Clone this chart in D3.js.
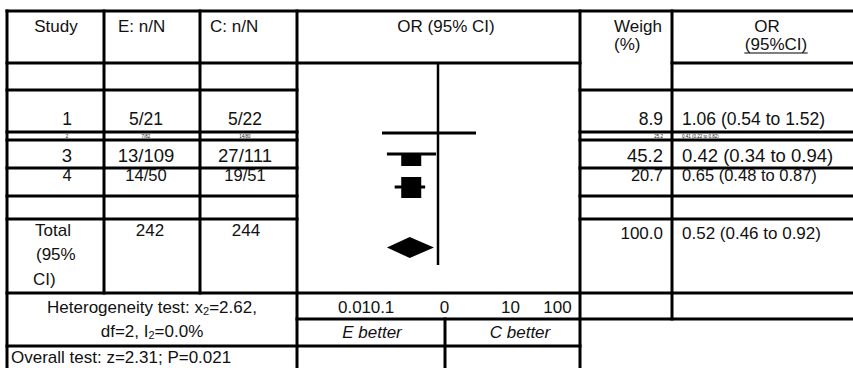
<!DOCTYPE html>
<html><head><meta charset="utf-8">
<script src="https://cdn.jsdelivr.net/npm/d3@7"></script>
<style>
html,body{margin:0;padding:0;background:#fff;}
svg{display:block;font-family:"Liberation Sans",Arial,sans-serif;}
</style></head><body>
<svg id="chart" width="853" height="368"></svg>
<script>
// ---------------- data ----------------
const studies  = ["1", "2", "3", "4"];
const eEvents  = ["5/21", "7/82", "13/109", "14/50"];
const cEvents  = ["5/22", "14/80", "27/111", "19/51"];
const weights  = ["8.9", "25.2", "45.2", "20.7"];
const orCI     = ["1.06 (0.54 to 1.52)", "0.41 (0.22 to 0.82)", "0.42 (0.34 to 0.94)", "0.65 (0.48 to 0.87)"];
// values as drawn on the plot axis (OR units)
const plotLo   = [0.125, null, 0.15, 0.20];
const plotEst  = [null,  null, 0.37, 0.37];
const plotHi   = [3.77,  null, 0.93, 0.62];
const totalE = "242", totalC = "244", totalW = "100.0", totalOR = "0.52 (0.46 to 0.92)";
const pooledLo = 0.15, pooledEst = 0.35, pooledHi = 0.86;
const tickValues = [0.01, 0.1, 1, 10, 100];
const tickLabels = ["0.01", "0.1", "0", "10", "100"];

// ---------------- layout ----------------
const svg = d3.select("#chart");
const X = {L: 7, c1: 104, c2: 200, c3: 297, c4: 580, c5: 672, R: 853, split: 445};
const Y = {T: 11, h1: 63, h2: 90, r1: 132, r2: 140, r3: 168, r4: 196, b: 219, tot: 293, het2: 319, het3: 346, B: 368};
const rowTops = [Y.h2, Y.r1, Y.r2, Y.r3];
const rowBase = [125, 138, 162, 181];
const rowFont = [17.5, 4.5, 18.5, 16.5];
const markOff = [43, 0, 14, 19];
const boxTop = [0, 0, 1, -10], boxBot = [0, 0, 12, 11];

const x = d3.scaleLog().domain(tickValues).range([348, 376, 438, 504, 551]);

const lines = svg.append("g").attr("stroke", "#000").attr("stroke-width", 3).attr("stroke-linecap", "square");
function hl(y, x1, x2){ lines.append("line").attr("x1", x1).attr("x2", x2).attr("y1", y).attr("y2", y); }
function vl(xx, y1, y2){ lines.append("line").attr("x1", xx).attr("x2", xx).attr("y1", y1).attr("y2", y2); }

hl(Y.T, X.L, X.R);
hl(Y.h1, X.L, X.c4); hl(Y.h1, X.c5, X.R);
[Y.h2, Y.r1, Y.r2, Y.r3, Y.r4, Y.b].forEach(y => { hl(y, X.L, X.c3); hl(y, X.c4, X.R); });
hl(Y.tot, X.L, X.R);
hl(Y.het2, X.c3, X.R);
hl(Y.het3, X.L, X.c4);
vl(X.L, Y.T, Y.B); vl(X.c1, Y.T, Y.tot); vl(X.c2, Y.T, Y.tot);
vl(X.c3, Y.T, Y.B); vl(X.c4, Y.T, Y.B); vl(X.c5, Y.T, Y.het2);
vl(X.split, Y.het2, Y.B);

const txt = svg.append("g").attr("fill", "#111");
function t(xx, y, s, anchor, size, style){
  return txt.append("text").attr("x", xx).attr("y", y).attr("text-anchor", anchor || "middle")
    .attr("font-size", size || 17).attr("font-style", style || null).text(s);
}

// headers
t(56, 32, "Study");
t(118, 32, "E: n/N", "start");
t(210, 32, "C: n/N", "start");
t(446, 32, "OR (95% CI)");
t(614, 32, "Weigh", "start");
t(614, 50, "(%)", "start");
t(767, 32, "OR");
const ci = t(776, 50, "(95%CI)");
const w = ci.node().getComputedTextLength();
lines.append("line").attr("x1", 776 - w / 2).attr("x2", 776 + w / 2).attr("y1", 53).attr("y2", 53).attr("stroke-width", 1);

// study rows
studies.forEach((s, i) => {
  const f = rowFont[i], yb = rowBase[i];
  t(67, yb, s, "middle", f);
  t(146, yb, eEvents[i], "middle", f);
  t(245, yb, cEvents[i], "middle", f);
  t(663, yb, weights[i], "end", f);
  t(682, yb, orCI[i], "start", f);
});

// total row
t(35, 236, "Total", "start");
t(36, 260, "(95%", "start");
t(33, 285, "CI)", "start");
t(150, 236, totalE);
t(246, 236, totalC);
t(663, 239, totalW, "end");
t(682, 239, totalOR, "start");

// heterogeneity / overall
const h1 = t(152, 313, "Heterogeneity test: x");
h1.append("tspan").attr("font-size", 11).attr("dy", 2).text("2");
h1.append("tspan").attr("dy", -2).text("=2.62,");
const h2 = t(152, 337, "df=2, I");
h2.append("tspan").attr("font-size", 11).attr("dy", 2).text("2");
h2.append("tspan").attr("dy", -2).text("=0.0%");
t(11, 363, "Overall test: z=2.31; P=0.021", "start");

// axis labels
const axis = d3.axisBottom(x).tickValues(tickValues).tickFormat((d, i) => tickLabels[i]).tickSize(0).tickPadding(0);
const ag = svg.append("g").attr("transform", "translate(6,0)").call(axis);
ag.select(".domain").remove();
ag.selectAll("text").attr("y", 313).attr("dy", null).attr("font-size", 17)
  .attr("font-family", "Liberation Sans, Arial, sans-serif").attr("fill", "#111");
t(372, 338, "E better", "middle", 17, "italic");
t(520, 338, "C better", "middle", 17, "italic");

// forest marks
const plot = svg.append("g");
plot.append("line").attr("x1", x(1)).attr("x2", x(1)).attr("y1", Y.h1).attr("y2", 265)
  .attr("stroke", "#000").attr("stroke-width", 2.5);
studies.forEach((s, i) => {
  if (plotLo[i] == null) return;
  const y = rowTops[i] + markOff[i];
  plot.append("line").attr("x1", x(plotLo[i])).attr("x2", x(plotHi[i])).attr("y1", y).attr("y2", y)
    .attr("stroke", "#000").attr("stroke-width", 3);
  if (plotEst[i] != null) {
    const cx = x(plotEst[i]);
    plot.append("rect").attr("x", cx - 10).attr("width", 20)
      .attr("y", y + boxTop[i]).attr("height", boxBot[i] - boxTop[i]).attr("fill", "#000");
  }
});
const cy = 247.5, hh = 10.5;
plot.append("path").attr("d", d3.line()([[x(pooledLo), cy], [x(pooledEst), cy - hh], [x(pooledHi), cy], [x(pooledEst), cy + hh]]) + "Z")
  .attr("fill", "#000");
</script>
</body></html>
